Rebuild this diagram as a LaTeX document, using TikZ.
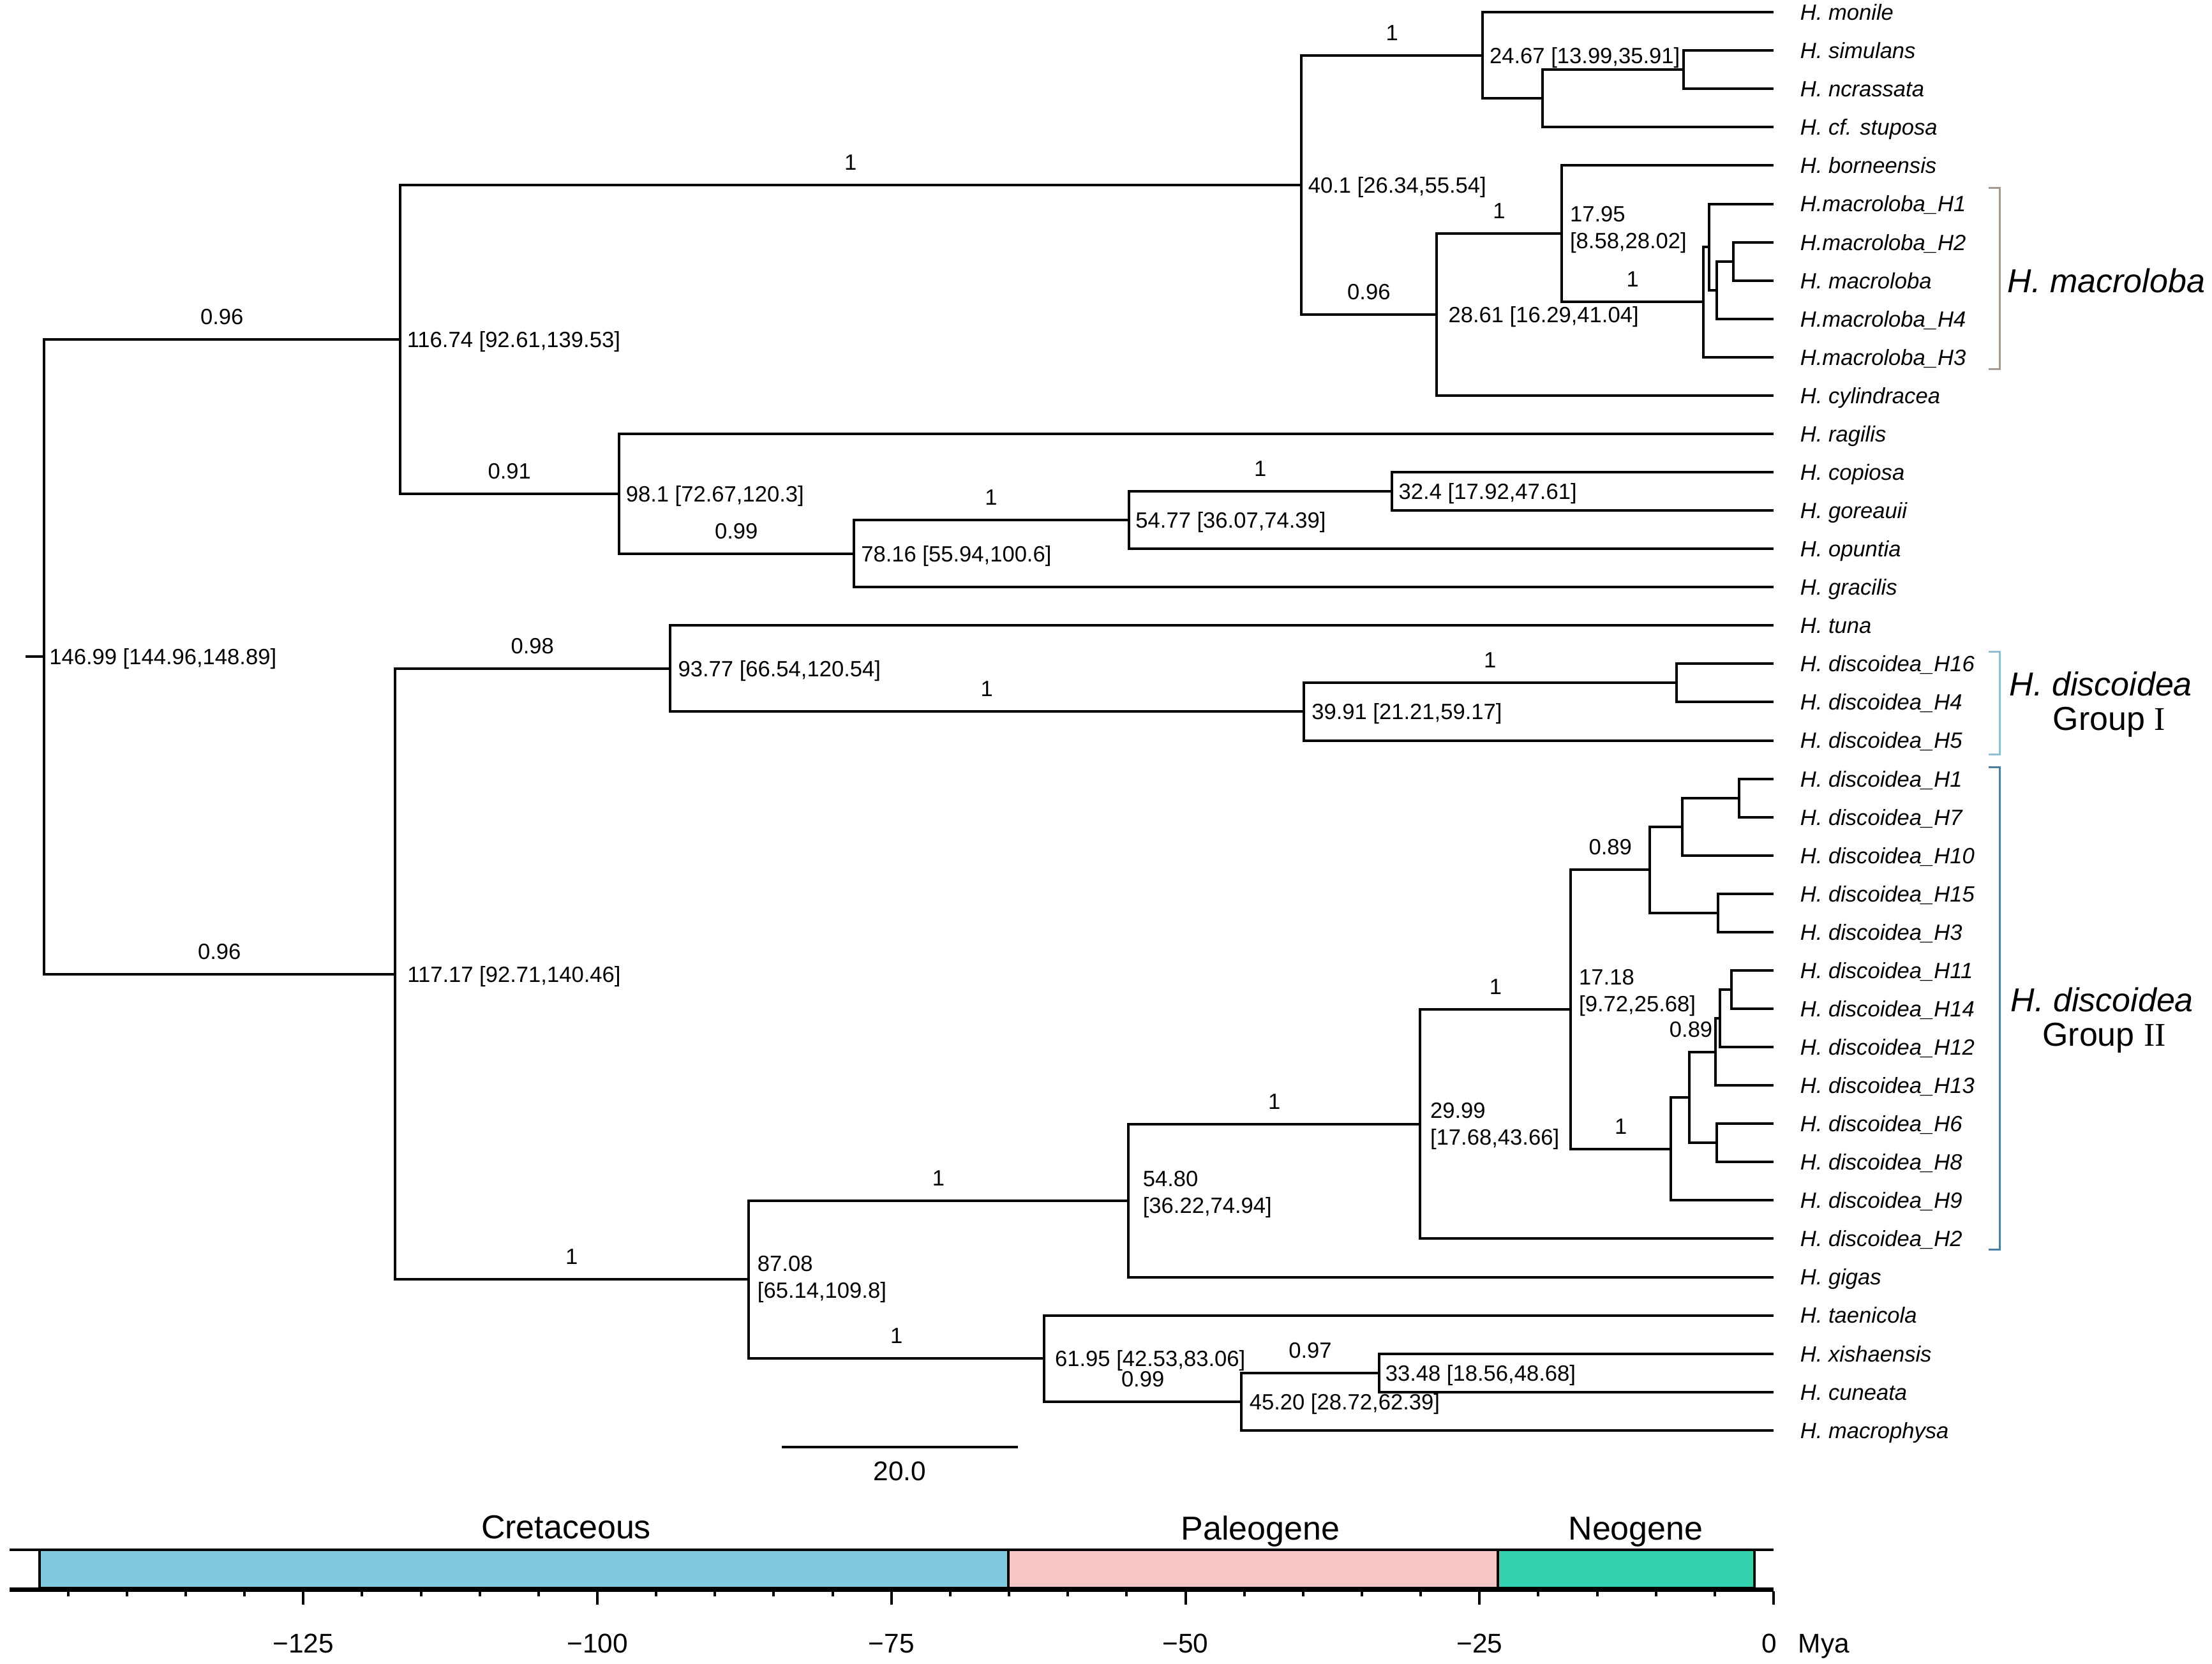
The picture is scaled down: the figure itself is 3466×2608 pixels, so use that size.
\documentclass[tikz,border=0pt]{standalone}
\usepackage{fontspec}
\setmainfont{Liberation Sans}
\newfontfamily\serifnum{Liberation Serif}
\usetikzlibrary{calc}
\definecolor{cret}{HTML}{80CADF}
\definecolor{paleo}{HTML}{F6C6C6}
\definecolor{neo}{HTML}{33D1AE}
\definecolor{brkA}{HTML}{A69B8F}
\definecolor{brkB}{HTML}{8FC0D0}
\definecolor{brkC}{HTML}{4A80A4}
\tikzset{
  br/.style={line width=1pt, line join=miter},
  leaflab/.style={anchor=base west, inner sep=0pt, font=\fontsize{8.65}{10.5}\selectfont\itshape, yshift=-3.1pt},
  agelab/.style={anchor=base west, inner sep=0pt, font=\fontsize{8.65}{10.5}\selectfont, yshift=-3.1pt},
  agelabtwo/.style={anchor=west, inner sep=0pt, align=left, font=\fontsize{8.65}{10.5}\selectfont},
  suplab/.style={anchor=base, inner sep=0pt, font=\fontsize{8.65}{10.5}\selectfont, yshift=5.9pt},
  biglab/.style={inner sep=0pt, font=\fontsize{13}{15.6}\selectfont},
  axlab/.style={anchor=base, inner sep=0pt, font=\fontsize{10.6}{12.7}\selectfont},
  brk/.style={line width=0.75pt},
  tick/.style={line width=1pt},
  period/.style={line width=1pt, draw=black}
}
\begin{document}
\begin{tikzpicture}[x=0.25pt,y=-0.25pt]
\useasboundingbox (0,0) rectangle (3466,2608);

% ---------- leaves ----------
\foreach \i/\t in {0/{H. monile},1/{H. simulans},2/{H. ncrassata},3/{H. cf. stuposa},4/{H. borneensis},
  5/{H.macroloba\_H1},6/{H.macroloba\_H2},7/{H. macroloba},8/{H.macroloba\_H4},9/{H.macroloba\_H3},
  10/{H. cylindracea},11/{H. ragilis},12/{H. copiosa},13/{H. goreauii},14/{H. opuntia},15/{H. gracilis},
  16/{H. tuna},17/{H. discoidea\_H16},18/{H. discoidea\_H4},19/{H. discoidea\_H5},20/{H. discoidea\_H1},
  21/{H. discoidea\_H7},22/{H. discoidea\_H10},23/{H. discoidea\_H15},24/{H. discoidea\_H3},
  25/{H. discoidea\_H11},26/{H. discoidea\_H14},27/{H. discoidea\_H12},28/{H. discoidea\_H13},
  29/{H. discoidea\_H6},30/{H. discoidea\_H8},31/{H. discoidea\_H9},32/{H. discoidea\_H2},
  33/{H. gigas},34/{H. taenicola},35/{H. xishaensis},36/{H. cuneata},37/{H. macrophysa}}{
  \coordinate (l\i) at (2779,{19.2+60.07*\i});
  \node[leaflab] (t\i) at (2820,{19.2+60.07*\i}) {\t};
}

% ---------- internal nodes ----------
\foreach \n/\x/\r in {R/69/16.81494, A/626.5/8.53516, B/2039/4.50781, C/2323.3/1.125, C1/2417/2.25,
  C2/2638/1.5, D/2250.7/7.89063, E/2447.2/5.78125, M4/2669/7.5625, M3/2678/6.125, M2/2690/7.25,
  M1/2716/6.5, F/970/12.5625, G/1337.5/14.125, H/1768.6/13.25, I/2180.9/12.5, J/618.6/25.09473,
  K/1049.8/17.125, L/2042.5/18.25, L1/2627/17.5, N/1173.1/33.06445, O/1768/31.00391,
  P/2225.3/29.00781, Q/2461.4/26.01563, Q89/2585/22.375, Qa/2636/21.25, Qaa/2725/20.5,
  Qb/2692/23.5, Qc/2618/29.65625, Qd/2647.3/28.3125, Qe/2687.7/27.125, Qf/2695/26.25,
  Qg/2712.7/25.5, Qh/2690/29.5, S/1636.3/35.125, T/1945/36.25, U/2161/35.5}{
  \coordinate (\n) at (\x,{19.2+60.07*\r});
}
\coordinate (rootstub) at (40,{19.2+60.07*16.81494});

% ---------- branches ----------
\foreach \n/\a/\b in {C2/l1/l2, C1/C2/l3, C/l0/C1, M1/l6/l7, M2/M1/l8, M3/l5/M2, M4/M3/l9,
  E/l4/M4, D/E/l10, B/C/D, I/l12/l13, H/I/l14, G/H/l15, F/l11/G, A/B/F, L1/l17/l18, L/L1/l19,
  K/l16/L, Qaa/l20/l21, Qa/Qaa/l22, Qb/l23/l24, Q89/Qa/Qb, Qg/l25/l26, Qf/Qg/l27, Qe/Qf/l28,
  Qh/l29/l30, Qd/Qe/Qh, Qc/Qd/l31, Q/Q89/Qc, P/Q/l32, O/P/l33, U/l35/l36, T/U/l37, S/l34/T,
  N/O/S, J/K/N, R/A/J}{
  \draw[br] (\a) -| (\n) |- (\b);
}
\draw[br] (rootstub) -- (R);

% ---------- support values ----------
\foreach \p/\c/\t in {R/A/0.96, A/B/1, B/C/1, B/D/0.96, D/E/1, E/M4/1, A/F/0.91, F/G/0.99,
  G/H/1, H/I/1, R/J/0.96, J/K/0.98, K/L/1, L/L1/1, J/N/1, N/O/1, O/P/1, P/Q/1, Q/Q89/0.89,
  Q/Qc/1, N/S/1, S/T/0.99, T/U/0.97}{
  \node[suplab] (s\c) at ($(\c)!0.5!(\p|-\c)$) {\t};
}
\node[agelab, anchor=base east] (sQf) at (2684,1613) {0.89};

% ---------- node ages ----------
\foreach \n/\g/\t in {R/7.5/{146.99 [144.96,148.89]}, A/10.5/{116.74 [92.61,139.53]},
  B/10/{40.1 [26.34,55.54]}, C/10/{24.67 [13.99,35.91]}, D/18/{28.61 [16.29,41.04]},
  F/10/{98.1 [72.67,120.3]}, G/11/{78.16 [55.94,100.6]}, H/10/{54.77 [36.07,74.39]},
  I/10/{32.4 [17.92,47.61]}, J/19/{117.17 [92.71,140.46]}, K/12/{93.77 [66.54,120.54]},
  L/12/{39.91 [21.21,59.17]}, S/16/{61.95 [42.53,83.06]}, T/12/{45.20 [28.72,62.39]},
  U/9/{33.48 [18.56,48.68]}}{
  \node[agelab, xshift=\g*0.25pt] (a\n) at (\n) {\t};
}
\node[agelabtwo, xshift=3pt, yshift=1.5pt] (aE) at (E) {17.95\\{[8.58,28.02]}};
\node[agelabtwo, xshift=3.25pt] (aN) at (N) {87.08\\{[65.14,109.8]}};
\node[agelabtwo, xshift=5.5pt, yshift=2.5pt] (aO) at (O) {54.80\\{[36.22,74.94]}};
\node[agelabtwo, xshift=3.75pt, yshift=-0.8pt] (aP) at (P) {29.99\\{[17.68,43.66]}};
\node[agelabtwo, xshift=3pt, yshift=6.5pt] (aQ) at (Q) {17.18\\{[9.72,25.68]}};

% ---------- clade brackets ----------
\draw[brk, brkA] (3116,295) -- (3133,295) -- (3133,579) -- (3116,579);
\draw[brk, brkB] (3116,1021) -- (3133,1021) -- (3133,1182) -- (3116,1182);
\draw[brk, brkC] (3116,1202) -- (3133,1202) -- (3133,1958) -- (3116,1958);
\node[biglab, anchor=base west] (gA) at (3145,458.6) {\itshape H. macroloba};
\node[biglab, anchor=base west] (gB) at (3148,1090.6) {\itshape H. discoidea};
\node[biglab, anchor=base] (gB2) at (3305,1144.6) {Group {\serifnum I}};
\node[biglab, anchor=base west] (gC) at (3150,1585) {\itshape H. discoidea};
\node[biglab, anchor=base] (gC2) at (3297,1639) {Group {\serifnum II}};

% ---------- scale bar ----------
\coordinate (sbL) at (1225,2267.5);
\coordinate (sbR) at (1595,2267.5);
\draw[line width=1pt] (sbL) -- (sbR);
\node[axlab] (sbT) at (1410,2320.6) {20.0};

% ---------- geological time scale ----------
\draw[line width=1pt] (15,2429) -- (2779,2429);
\draw[period, fill=cret] (62,2429) rectangle (1580,2489);
\draw[period, fill=paleo] (1580,2429) rectangle (2347,2489);
\draw[period, fill=neo] (2347,2429) rectangle (2749,2489);
\draw[line width=1.7pt] (15,2491.5) -- (2779,2491.5);
\foreach \a in {5,10,...,145}{
  \draw[tick] ({2779-18.43*\a},2494) -- ++(0,8);
}
\foreach \a in {0,25,...,125}{
  \draw[tick] ({2779-18.43*\a},2494) -- ++(0,21);
}
\foreach \a in {25,50,...,125}{
  \node[axlab] at ({2779-18.43*\a},2590) {−\a};
}
\node[axlab] (ax0) at (2772,2590) {0};
\node[axlab, anchor=base west] (mya) at (2817,2590) {Mya};
\node[biglab, anchor=base] (pC) at (887,2411) {Cretaceous};
\node[biglab, anchor=base] (pP) at (1975,2413) {Paleogene};
\node[biglab, anchor=base] (pN) at (2563,2413) {Neogene};
\end{tikzpicture}
\end{document}
